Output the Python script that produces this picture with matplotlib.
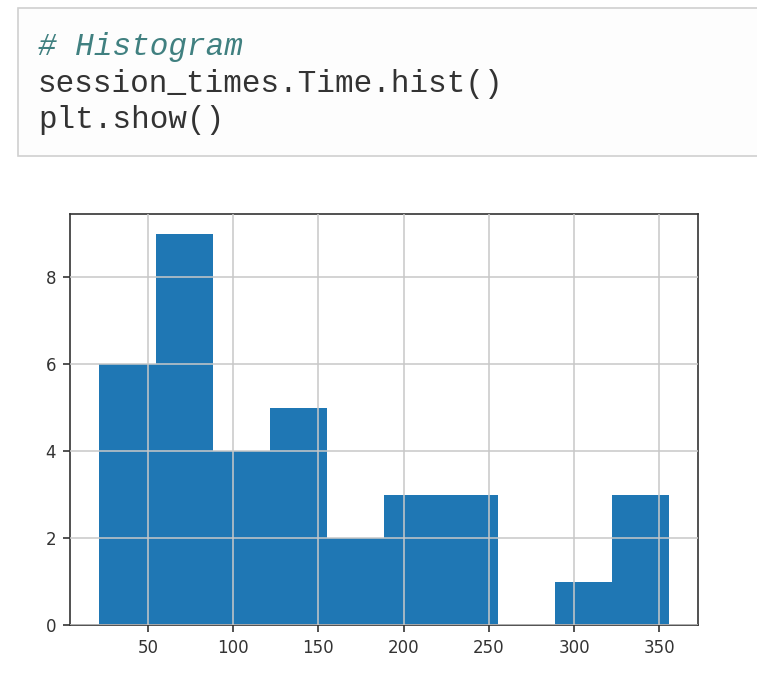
import numpy as np
import matplotlib
matplotlib.use('Agg')
from matplotlib import pyplot as plt
from matplotlib.patches import Rectangle

# histogram of session_times.Time, 10 bins (pandas default)
time_min = 21.0
time_max = 356.0
bin_counts = [6, 9, 4, 5, 2, 3, 3, 0, 1, 3]
code_lines = ['# Histogram', 'session_times.Time.hist()', 'plt.show()']

num_bin = len(bin_counts)
edges = np.linspace(time_min, time_max, num_bin + 1)

fig = plt.figure(figsize=(7.57, 6.91), dpi=100)

# notebook input cell
box = Rectangle((18/757, 1 - 156/691), 1.0, 148/691, transform=fig.transFigure,
                facecolor='#fdfdfd', edgecolor='#d0d0d0', linewidth=1.2)
fig.patches.append(box)
line_y = (55, 92, 128)
for i in np.arange(len(code_lines)):
	if i == 0:
		fig.text(38/757, 1 - line_y[i]/691, code_lines[i], family='Liberation Mono',
		         fontsize=22.3, style='italic', color='#408080', va='baseline')
	else:
		fig.text(38/757, 1 - line_y[i]/691, code_lines[i], family='Liberation Mono',
		         fontsize=22.3, color='#333333', va='baseline')

# the output histogram
ax = fig.add_axes([70/757, 1 - 625/691, 628/757, 411/691])
ax.hist(edges[:-1], bins=edges, weights=bin_counts, color='#1f77b4')
ax.grid(True, color='#c8c8c8', linewidth=1.1)
ax.set_axisbelow(False)
ax.set_xticks([50, 100, 150, 200, 250, 300, 350])
ax.set_yticks([0, 2, 4, 6, 8])
ax.tick_params(labelsize=12, length=5, width=1.2, colors='#333333', pad=5)
for s in ax.spines.values():
	s.set_linewidth(1.2)
	s.set_color('#333333')

fig.savefig('out.png', dpi=100)
